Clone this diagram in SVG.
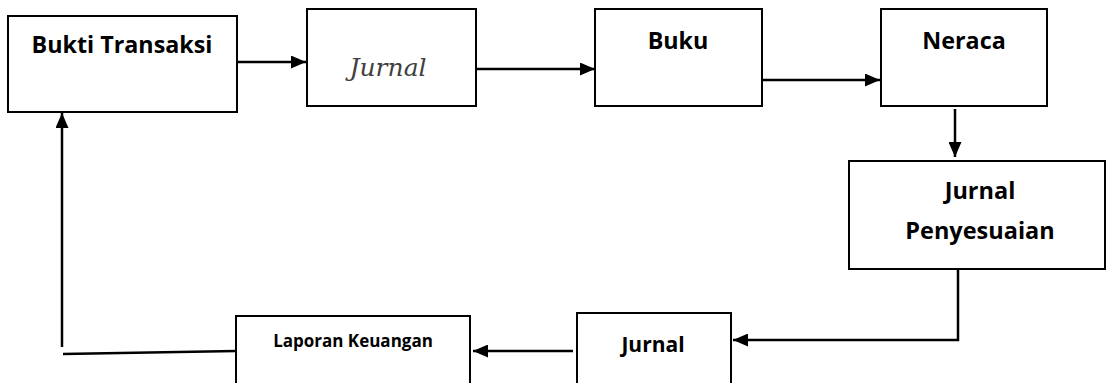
<svg xmlns="http://www.w3.org/2000/svg" width="1108" height="383" viewBox="0 0 1108 383">
<defs>
<style>
.box{fill:#fff;stroke:#000;stroke-width:2}
.lbl{font-family:"Open Sans","Liberation Sans",sans-serif;font-weight:bold;fill:#000;text-anchor:middle}
.con{fill:none;stroke:#000;stroke-width:2.5}
</style>
<marker id="ah" viewBox="0 0 15 13" refX="15" refY="6.5" markerWidth="15" markerHeight="13" markerUnits="userSpaceOnUse" orient="auto">
<path d="M0,0 L15,6.5 L0,13 Z" fill="#000"/>
</marker>
</defs>
<rect width="1108" height="383" fill="#fff"/>
<g id="bukti-transaksi"><rect class="box" x="8" y="16" width="229" height="96"/><text class="lbl" x="122" y="53" font-size="23.3">Bukti Transaksi</text></g>
<g id="jurnal"><rect class="box" x="307" y="9" width="169" height="97"/><text x="388" y="76" font-family="'DejaVu Serif','Liberation Serif',serif" font-style="italic" font-size="25" fill="#404040" text-anchor="middle">Jurnal</text></g>
<g id="buku"><rect class="box" x="595" y="9" width="167" height="97"/><text class="lbl" x="678" y="49" font-size="23.3">Buku</text></g>
<g id="neraca"><rect class="box" x="881" y="9" width="166" height="97"/><text class="lbl" x="964" y="49" font-size="23.3">Neraca</text></g>
<g id="jurnal-penyesuaian"><rect class="box" x="849" y="161" width="256" height="108"/><text class="lbl" x="980" y="199" font-size="23.5">Jurnal</text><text class="lbl" x="980" y="239" font-size="23.5">Penyesuaian</text></g>
<g id="jurnal-2"><rect class="box" x="577" y="313" width="154" height="80"/><text class="lbl" x="653" y="352" font-size="21">Jurnal</text></g>
<g id="laporan-keuangan"><rect class="box" x="236" y="316" width="234" height="80"/><text class="lbl" x="353" y="347" font-size="17">Laporan Keuangan</text></g>
<g id="connectors">
<line class="con" x1="237" y1="62" x2="306" y2="62" marker-end="url(#ah)"/>
<line class="con" x1="476" y1="69" x2="595" y2="69" marker-end="url(#ah)"/>
<line class="con" x1="762" y1="80" x2="880" y2="80" marker-end="url(#ah)"/>
<line class="con" x1="955" y1="109" x2="955" y2="157" marker-end="url(#ah)"/>
<polyline class="con" points="958,270 958,340 733,340" marker-end="url(#ah)"/>
<line class="con" x1="573" y1="351" x2="473" y2="351" marker-end="url(#ah)"/>
<line class="con" x1="236" y1="351" x2="63" y2="354"/>
<line class="con" x1="62" y1="347" x2="62" y2="113" marker-end="url(#ah)"/>
</g>
</svg>
